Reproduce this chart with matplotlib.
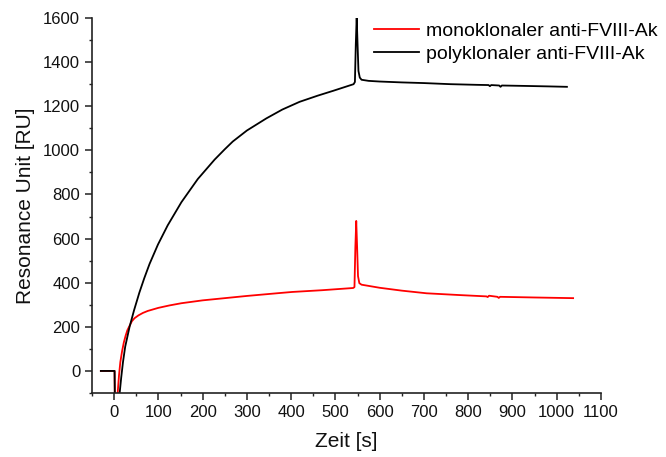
import matplotlib
matplotlib.use("Agg")
import matplotlib.pyplot as plt
from matplotlib.ticker import MultipleLocator

plt.rcParams['font.family'] = ['Liberation Sans', 'DejaVu Sans']

# Data
mono_t = [-30, 1, 2, 5, 8, 11, 14, 18, 22, 26, 30, 35, 40, 46, 55, 65, 76, 100, 125,
          152, 200, 250, 300, 373, 402, 470, 540, 543, 545, 547, 549, 551, 554, 559,
          600, 650, 706, 780, 841, 844, 847, 866, 869, 872, 950, 1037]
mono_ru = [0, 0, -200, -200, -100, -20, 40, 90, 130, 160, 185, 205, 225, 239, 252, 263,
           272, 286, 297, 307, 320, 330, 340, 353, 358, 366, 376, 380, 560, 680, 560,
           430, 398, 391, 377, 364, 352, 344, 338, 335, 341, 336, 331, 336, 333, 330]

poly_t = [-30, 1, 2, 10, 12, 16, 20, 25, 35, 45, 57, 68, 80, 99, 121, 152, 189, 227,
          250, 268, 300, 344, 380, 419, 460, 495, 541, 544, 546, 548, 550, 552, 555,
          559, 575, 600, 650, 700, 760, 820, 846, 849, 852, 870, 873, 876, 930, 980, 1023]
poly_ru = [0, 0, -200, -200, -110, -30, 40, 110, 201, 275, 355, 420, 485, 573, 660, 765,
           870, 958, 1005, 1040, 1090, 1145, 1185, 1220, 1248, 1270, 1300, 1310, 1480,
           1605, 1480, 1360, 1330, 1320, 1315, 1312, 1308, 1305, 1300, 1297, 1296, 1291,
           1296, 1294, 1288, 1294, 1292, 1290, 1288]

labels = ["monoklonaler anti-FVIII-Ak", "polyklonaler anti-FVIII-Ak"]
colors = ["#ff0000", "#000000"]

fig = plt.figure(figsize=(6.66, 4.57), dpi=100)
ax = fig.add_axes([92 / 666, 1 - 393 / 457, (601 - 92) / 666, (393 - 18) / 457])

ax.plot(mono_t, mono_ru, color=colors[0], lw=1.3, label=labels[0])
ax.plot(poly_t, poly_ru, color=colors[1], lw=1.3, label=labels[1])

ax.set_xlim(-50, 1100)
ax.set_ylim(-100, 1600)
ax.xaxis.set_major_locator(MultipleLocator(100))
ax.xaxis.set_minor_locator(MultipleLocator(50))
ax.yaxis.set_major_locator(MultipleLocator(200))
ax.yaxis.set_minor_locator(MultipleLocator(100))

for s in ['top', 'right']:
    ax.spines[s].set_visible(False)
for s in ['left', 'bottom']:
    ax.spines[s].set_linewidth(1.2)
    ax.spines[s].set_color('#222222')

ax.tick_params(which='major', direction='out', length=5, width=1.1, labelsize=12,
               pad=3.5, colors='#222222')
ax.tick_params(which='minor', direction='out', length=2.5, width=1.0, colors='#222222')
for lab in ax.get_xticklabels() + ax.get_yticklabels():
    lab.set_color('#111111')

ax.set_xlabel("Zeit [s]", fontsize=15, labelpad=9, color='#111111')
ax.set_ylabel("Resonance Unit [RU]", fontsize=15, labelpad=6, color='#111111')

leg = ax.legend(loc='upper left', bbox_to_anchor=(374 / 666, 1 - 22 / 457),
                bbox_transform=fig.transFigure, frameon=False, fontsize=14,
                handlelength=2.3, handletextpad=0.35, labelspacing=0.3,
                borderpad=0, borderaxespad=0)

fig.savefig("out.png", dpi=100)
